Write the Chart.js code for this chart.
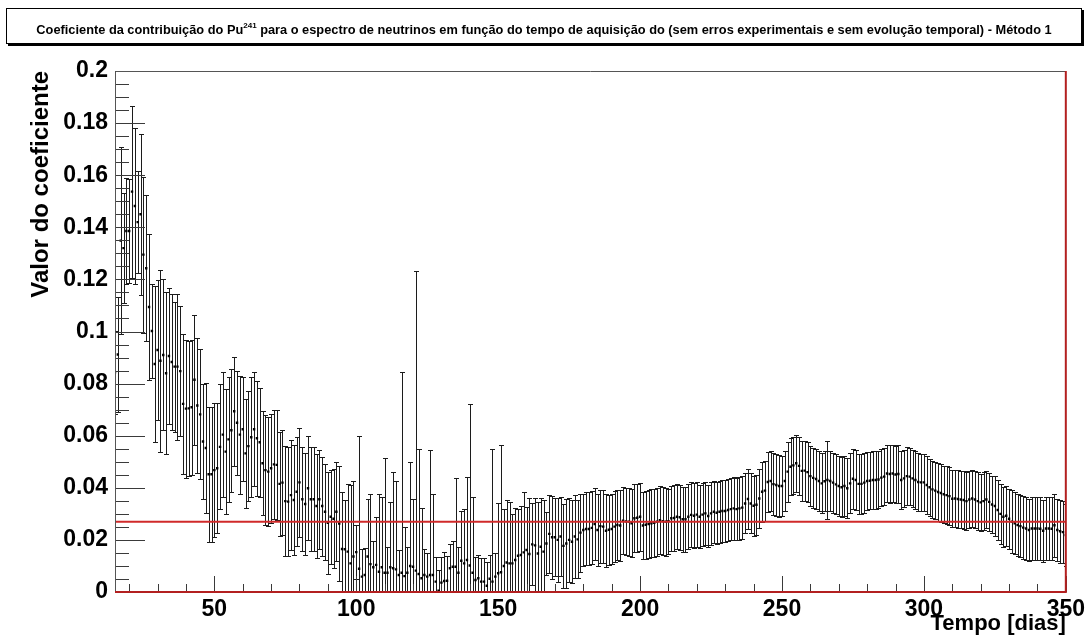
<!DOCTYPE html>
<html>
<head>
<meta charset="utf-8">
<script src="https://cdn.jsdelivr.net/npm/chart.js@4.4.0/dist/chart.umd.min.js"></script>
<style>
  html, body { margin: 0; padding: 0; background: #fff; }
  #wrap { position: relative; width: 1089px; height: 644px; }
  #titulo {
    position: absolute; left: 6px; top: 8px; width: 1074px; height: 34px;
    border: 1px solid #000; box-shadow: 2px 2px 0 #000; background: #fff;
    font: bold 12.8px "Liberation Sans", Arial, sans-serif; color: #000;
    text-align: center; line-height: 36px; white-space: nowrap; z-index: 2;
  }
  #titulo sup { font-size: 8px; position: relative; top: -1px; }
  canvas { position: absolute; left: 0; top: 0; }
</style>
</head>
<body>
<div id="wrap">
  <div id="titulo">Coeficiente da contribuição do Pu<sup>241</sup> para o espectro de neutrinos em função do tempo de aquisição do (sem erros experimentais e sem evolução temporal) - Método 1</div>
  <canvas id="grafico" width="1089" height="644"></canvas>
</div>
<script>
// dia da primeira medida; uma medida por dia ate o dia 350
const primeiroDia = 15;

// valor do coeficiente (dias 15 a 350)
const coeficiente = [
  0.0843, 0.0912, 0.1349, 0.132, 0.1386, 0.1386, 0.1537, 0.1482, 0.142, 0.145,
  0.1295, 0.1243, 0.1094, 0.1002, 0.0875, 0.0929, 0.0888, 0.091, 0.084, 0.0906,
  0.0883, 0.0865, 0.0865, 0.0848, 0.0722, 0.0704, 0.0705, 0.0709, 0.0815, 0.0716,
  0.0682, 0.0578, 0.0553, 0.0452, 0.0452, 0.0468, 0.0475, 0.0557, 0.0604, 0.0539,
  0.0586, 0.0621, 0.0694, 0.065, 0.0604, 0.0625, 0.0532, 0.056, 0.0594, 0.0625,
  0.059, 0.0575, 0.0494, 0.0468, 0.0462, 0.0475, 0.049, 0.0488, 0.0415, 0.042,
  0.0349, 0.0347, 0.0372, 0.0353, 0.0385, 0.0421, 0.0356, 0.0338, 0.0398, 0.0356,
  0.0356, 0.033, 0.0356, 0.033, 0.0308, 0.0266, 0.0289, 0.0281, 0.0308, 0.0263,
  0.0165, 0.0164, 0.0155, 0.011, 0.0136, 0.0153, 0.0089, 0.0059, 0.0065, 0.0136,
  0.0107, 0.0095, 0.0104, 0.0078, 0.0095, 0.0074, 0.0074, 0.0095, 0.0091, 0.0087,
  0.0065, 0.0074, 0.0061, 0.0074, 0.01, 0.0097, 0.0082, 0.0069, 0.0053, 0.0065,
  0.0059, 0.0065, 0.0065, 0.004, 0.0005, 0.0036, 0.0042, 0.0043, 0.0091, 0.0097,
  0.0097, 0.0074, 0.012, 0.011, 0.0123, 0.0102, 0.0074, 0.0046, 0.0053, 0.004,
  0.004, 0.0024, 0.0051, 0.004, 0.0059, 0.0072, 0.0076, 0.01, 0.0113, 0.011,
  0.011, 0.0123, 0.0139, 0.0142, 0.0152, 0.0161, 0.0146, 0.0183, 0.0179, 0.0148,
  0.0174, 0.0155, 0.0186, 0.0223, 0.021, 0.021, 0.02, 0.0213, 0.0177, 0.0186,
  0.02, 0.0193, 0.0213, 0.0202, 0.0228, 0.0238, 0.0242, 0.0242, 0.0246, 0.0261,
  0.0238, 0.0253, 0.0251, 0.0235, 0.0239, 0.0242, 0.0251, 0.0257, 0.0255, 0.0274,
  0.0271, 0.027, 0.0264, 0.0283, 0.0285, 0.0289, 0.0255, 0.0258, 0.0261, 0.0264,
  0.0266, 0.027, 0.0276, 0.0272, 0.027, 0.0272, 0.0283, 0.0284, 0.0289, 0.0287,
  0.0279, 0.0279, 0.0289, 0.0296, 0.0293, 0.0297, 0.0289, 0.0297, 0.0302, 0.0292,
  0.0302, 0.0308, 0.0304, 0.0308, 0.0311, 0.0311, 0.0315, 0.0318, 0.0321, 0.0318,
  0.0321, 0.0324, 0.034, 0.0357, 0.034, 0.0331, 0.0335, 0.0359, 0.0385, 0.0389,
  0.0422, 0.0426, 0.0414, 0.0411, 0.0407, 0.0407, 0.0426, 0.0462, 0.0481, 0.0486,
  0.0494, 0.0484, 0.0465, 0.0466, 0.046, 0.0445, 0.0438, 0.0434, 0.0426, 0.0417,
  0.0425, 0.043, 0.0426, 0.042, 0.0413, 0.0407, 0.0402, 0.0407, 0.0398, 0.0417,
  0.0435, 0.043, 0.0415, 0.0415, 0.042, 0.0426, 0.0427, 0.043, 0.043, 0.0432,
  0.0439, 0.0443, 0.0455, 0.0453, 0.0455, 0.0451, 0.0453, 0.043, 0.0436, 0.0445,
  0.0443, 0.0436, 0.043, 0.0422, 0.0421, 0.0421, 0.0411, 0.0402, 0.0394, 0.0389,
  0.0384, 0.038, 0.0375, 0.0372, 0.0368, 0.0358, 0.0359, 0.0357, 0.0355, 0.0353,
  0.0349, 0.0355, 0.0359, 0.0355, 0.0349, 0.0344, 0.0349, 0.0355, 0.0346, 0.0336,
  0.033, 0.0315, 0.03, 0.0289, 0.0293, 0.0281, 0.027, 0.0264, 0.0257, 0.0253,
  0.0247, 0.0244, 0.0238, 0.0244, 0.0244, 0.0244, 0.0243, 0.0235, 0.0244, 0.0244,
  0.0243, 0.0256, 0.0238, 0.0233, 0.023, 0.0219
];

// erro de cada ponto (mesma ordem)
const erro = [
  0.016, 0.022, 0.036, 0.021, 0.0205, 0.02, 0.033, 0.03, 0.0195, 0.031,
  0.03, 0.028, 0.028, 0.018, 0.03, 0.027, 0.035, 0.029, 0.031, 0.026,
  0.026, 0.025, 0.028, 0.025, 0.027, 0.0265, 0.026, 0.026, 0.025, 0.026,
  0.025, 0.022, 0.025, 0.026, 0.026, 0.0256, 0.025, 0.024, 0.024, 0.024,
  0.024, 0.0236, 0.021, 0.02, 0.0227, 0.02, 0.021, 0.021, 0.023, 0.022,
  0.022, 0.021, 0.02, 0.021, 0.021, 0.021, 0.021, 0.021, 0.02, 0.02,
  0.021, 0.021, 0.021, 0.021, 0.021, 0.021, 0.02, 0.0195, 0.02, 0.02,
  0.02, 0.02, 0.019, 0.019, 0.0185, 0.0195, 0.018, 0.019, 0.019, 0.022,
  0.022, 0.019, 0.026, 0.03, 0.029, 0.0104, 0.051, 0.0105, 0.0104, 0.022,
  0.027, 0.01, 0.0185, 0.03, 0.027, 0.044, 0.01, 0.025, 0.037, 0.034,
  0.0096, 0.077, 0.019, 0.01, 0.04, 0.026, 0.115, 0.048, 0.027, 0.01,
  0.009, 0.048, 0.031, 0.0096, 0.008, 0.01, 0.011, 0.0095, 0.0094, 0.01,
  0.034, 0.01, 0.019, 0.021, 0.032, 0.062, 0.029, 0.009, 0.009, 0.009,
  0.009, 0.009, 0.009, 0.051, 0.009, 0.027, 0.049, 0.022, 0.024, 0.0237,
  0.019, 0.02, 0.018, 0.0188, 0.023, 0.0165, 0.0214, 0.0157, 0.018, 0.0198,
  0.0186, 0.0198, 0.012, 0.015, 0.016, 0.015, 0.016, 0.015, 0.016, 0.017,
  0.016, 0.016, 0.016, 0.015, 0.015, 0.014, 0.014, 0.014, 0.014, 0.014,
  0.014, 0.014, 0.014, 0.014, 0.0135, 0.0135, 0.0135, 0.0135, 0.0135, 0.013,
  0.013, 0.013, 0.013, 0.013, 0.013, 0.013, 0.013, 0.013, 0.013, 0.013,
  0.013, 0.013, 0.013, 0.013, 0.013, 0.0125, 0.0125, 0.0125, 0.0125, 0.0125,
  0.0125, 0.0125, 0.0125, 0.0125, 0.0125, 0.0125, 0.012, 0.012, 0.012, 0.012,
  0.012, 0.012, 0.012, 0.012, 0.012, 0.012, 0.012, 0.012, 0.012, 0.012,
  0.012, 0.012, 0.0115, 0.0115, 0.0115, 0.0115, 0.0115, 0.0115, 0.0115, 0.0115,
  0.0115, 0.0115, 0.012, 0.012, 0.012, 0.0115, 0.0115, 0.0115, 0.011, 0.011,
  0.011, 0.011, 0.0115, 0.0115, 0.0115, 0.0115, 0.0115, 0.0115, 0.0115, 0.0115,
  0.0115, 0.015, 0.0115, 0.0115, 0.0115, 0.0115, 0.0115, 0.0115, 0.0115, 0.0115,
  0.0115, 0.0115, 0.0115, 0.0115, 0.0115, 0.011, 0.011, 0.011, 0.011, 0.011,
  0.011, 0.011, 0.011, 0.011, 0.011, 0.011, 0.011, 0.011, 0.011, 0.011,
  0.011, 0.011, 0.011, 0.011, 0.011, 0.011, 0.011, 0.011, 0.011, 0.011,
  0.011, 0.011, 0.011, 0.011, 0.011, 0.011, 0.011, 0.011, 0.011, 0.011,
  0.011, 0.011, 0.011, 0.011, 0.011, 0.011, 0.011, 0.011, 0.011, 0.011,
  0.0115, 0.0115, 0.0115, 0.0115, 0.0115, 0.0115, 0.012, 0.012, 0.012, 0.012,
  0.012, 0.012, 0.012, 0.012, 0.012, 0.012, 0.012, 0.012, 0.012, 0.012,
  0.012, 0.012, 0.012, 0.012, 0.012, 0.012
];

// valor constante ajustado (linha vermelha)
const valorAjuste = [0.027];

const ticksX = [50, 100, 150, 200, 250, 300, 350];
const ticksY = [0, 0.02, 0.04, 0.06, 0.08, 0.1, 0.12, 0.14, 0.16, 0.18, 0.2];
const limitesX = [15, 350];
const limitesY = [0, 0.2];

const pontos = coeficiente.map((v, i) => ({ x: primeiroDia + i, y: v }));
const linhaAjuste = limitesX.map(d => ({ x: d, y: valorAjuste[0] }));

// barras de erro com as pontinhas, estilo ROOT
const barrasErro = {
  id: 'barrasErro',
  beforeDatasetsDraw(chart) {
    const { ctx, chartArea: a, scales: { x, y } } = chart;
    ctx.save();
    ctx.beginPath();
    ctx.rect(a.left, a.top, a.right - a.left, a.bottom - a.top);
    ctx.clip();
    ctx.strokeStyle = '#1c1c1c';
    ctx.lineWidth = 1;
    ctx.beginPath();
    coeficiente.forEach((v, i) => {
      const px = Math.round(x.getPixelForValue(primeiroDia + i)) + 0.5;
      const yt = Math.round(y.getPixelForValue(v + erro[i])) + 0.5;
      const yb = Math.round(y.getPixelForValue(v - erro[i])) + 0.5;
      ctx.moveTo(px, yt); ctx.lineTo(px, yb);
      ctx.moveTo(px - 2.5, yt); ctx.lineTo(px + 2.5, yt);
      ctx.moveTo(px - 2.5, yb); ctx.lineTo(px + 2.5, yb);
    });
    ctx.stroke();
    ctx.restore();
  }
};

// moldura e marcas dos eixos (para dentro, como no ROOT)
const moldura = {
  id: 'moldura',
  afterDatasetsDraw(chart) {
    const { ctx, chartArea: a, scales: { x, y } } = chart;
    ctx.save();
    ctx.strokeStyle = '#3a3a3a';
    ctx.lineWidth = 1;
    ctx.beginPath();
    // eixo y: marcas maiores e menores
    const passoY = (ticksY[1] - ticksY[0]) / 4;
    for (let k = 0; k * passoY <= y.max + 1e-9; k++) {
      const py = Math.round(y.getPixelForValue(k * passoY)) + 0.5;
      const len = k % 4 === 0 ? 30 : 14;
      ctx.moveTo(a.left, py); ctx.lineTo(a.left + len, py);
    }
    // eixo x
    const passoX = (ticksX[1] - ticksX[0]) / 5;
    for (let v = Math.ceil(x.min / passoX) * passoX; v <= x.max; v += passoX) {
      const px = Math.round(x.getPixelForValue(v)) + 0.5;
      const len = v % ticksX[0] === 0 ? 16 : 8;
      ctx.moveTo(px, a.bottom); ctx.lineTo(px, a.bottom - len);
    }
    ctx.stroke();
    // topo e esquerda
    ctx.strokeStyle = '#555';
    ctx.beginPath();
    ctx.moveTo(a.left + 0.5, a.bottom); ctx.lineTo(a.left + 0.5, a.top + 0.5);
    ctx.lineTo(a.right, a.top + 0.5);
    ctx.stroke();
    // base e direita em vermelho
    ctx.strokeStyle = '#b32020';
    ctx.lineWidth = 2;
    ctx.beginPath();
    ctx.moveTo(a.left, a.bottom); ctx.lineTo(a.right, a.bottom);
    ctx.lineTo(a.right, a.top);
    ctx.stroke();
    ctx.restore();
  }
};

const fonte = '"Liberation Sans", Arial, Helvetica, sans-serif';

new Chart(document.getElementById('grafico'), {
  type: 'scatter',
  data: {
    datasets: [
      {
        type: 'line',
        data: linhaAjuste,
        borderColor: '#d02a2a',
        borderWidth: 2,
        pointRadius: 0,
        order: 0
      },
      {
        data: pontos,
        pointStyle: 'rect',
        pointRadius: 1.7,
        backgroundColor: '#000',
        borderWidth: 0,
        order: 1
      }
    ]
  },
  options: {
    responsive: false,
    animation: false,
    layout: { padding: { left: 0, right: 21, top: 71, bottom: 0 } },
    plugins: { legend: { display: false }, tooltip: { enabled: false } },
    scales: {
      x: {
        type: 'linear',
        min: limitesX[0], max: limitesX[1],
        grid: { display: false, drawTicks: false },
        border: { display: false },
        afterBuildTicks: s => { s.ticks = ticksX.map(v => ({ value: v })); },
        afterFit: s => { s.height = 52; },
        ticks: { color: '#000', padding: 4, maxRotation: 0, font: { family: fonte, size: 23, weight: 'bold' } },
        title: {
          display: true, text: 'Tempo [dias]', align: 'end', color: '#000',
          padding: { top: 0, bottom: 7 },
          font: { family: fonte, size: 22, weight: 'bold' }
        }
      },
      y: {
        type: 'linear',
        min: limitesY[0], max: limitesY[1],
        grid: { display: false, drawTicks: false },
        border: { display: false },
        afterBuildTicks: s => { s.ticks = ticksY.map(v => ({ value: v })); },
        afterFit: s => { s.width = 115; },
        ticks: {
          color: '#000', padding: 7,
          font: { family: fonte, size: 23, weight: 'bold' },
          callback: v => String(Math.round(v * 100) / 100)
        },
        title: {
          display: true, text: 'Valor do coeficiente', align: 'end', color: '#000',
          padding: { top: 27, bottom: 0 },
          font: { family: fonte, size: 24, weight: 'bold' }
        }
      }
    }
  },
  plugins: [barrasErro, moldura]
});
</script>
</body>
</html>
